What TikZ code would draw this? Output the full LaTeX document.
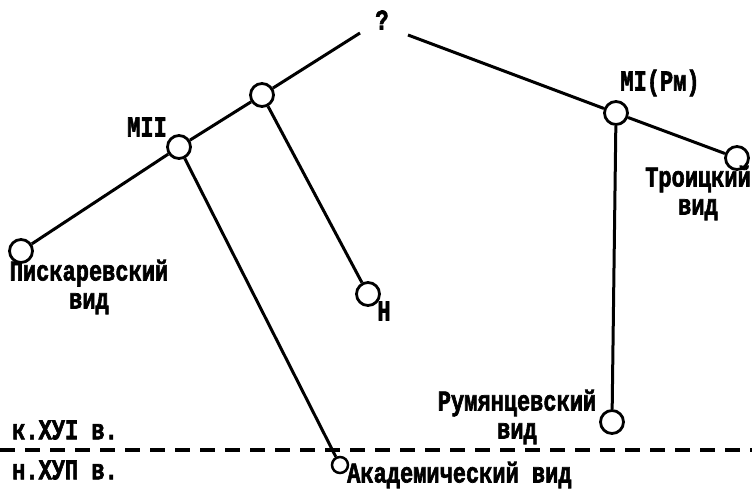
\documentclass[tikz,border=0pt]{standalone}
\usepackage{fontspec}
\usepackage{graphicx}
\newfontfamily\lblfont{Liberation Mono}[UprightFeatures={FakeBold=2.5},BoldFont={Liberation Mono Bold},BoldFeatures={FakeBold=2.5}]
\newcommand\tall[1]{\scalebox{1}[1.3]{#1}}
\begin{document}
\begin{tikzpicture}[x=1pt,y=-1pt,
  ms/.style={circle,draw,line width=2.8pt,minimum size=23pt,inner sep=0pt},
  msmall/.style={circle,draw,line width=2.5pt,minimum size=16pt,inner sep=0pt},
  lbl/.style={font=\lblfont\bfseries\fontsize{22}{28}\selectfont,inner sep=0pt,align=center},
  edge/.style={line width=3pt},
  border/.style={line width=3.2pt,dash pattern=on 15pt off 10pt}]
\useasboundingbox (0,0) rectangle (752,491);
\node[lbl] (q) at (382,20) {\tall{?}};
\coordinate (qL) at (360,33);
\coordinate (qR) at (408,35);
\node[ms] (A) at (262,95) {};
\node[ms] (M2) at (179,147) {};
\node[ms] (P) at (21,251) {};
\node[ms] (H) at (368,294) {};
\node[msmall] (Ak) at (340,465) {};
\node[ms] (M1) at (616,113) {};
\node[ms] (T) at (737,158) {};
\node[ms] (R) at (612,422) {};
\draw[edge] (qL) -- (A);
\draw[edge] (A) -- (M2);
\draw[edge] (M2) -- (P);
\draw[edge] (A) -- (H);
\draw[edge] (M2) -- (Ak);
\draw[edge] (qR) -- (M1);
\draw[edge] (M1) -- (T);
\draw[edge] (M1) -- (R);
\coordinate (dL) at (0,450);
\coordinate (dR) at (752,450);
\draw[border] (dL) -- (dR);
\node[lbl] (lM2) at (147,127) {\tall{МII}};
\node[lbl] (lM1) at (660,83) {\tall{МI(Рм)}};
\node[lbl] (lP) at (89,287) {\tall{Пискаревский}\\\tall{вид}};
\node[lbl] (lT) at (698,193) {\tall{Троицкий}\\\tall{вид}};
\node[lbl] (lR) at (517,417) {\tall{Румянцевский}\\\tall{вид}};
\node[lbl] (lH) at (384,311) {\tall{Н}};
\node[lbl,anchor=west] (lAk) at (347,475) {\tall{Академический вид}};
\node[lbl,anchor=west] (lk) at (12,430) {\tall{к.ХУI в.}};
\node[lbl,anchor=west] (ln) at (12,470) {\tall{н.ХУП в.}};
\end{tikzpicture}
\end{document}
